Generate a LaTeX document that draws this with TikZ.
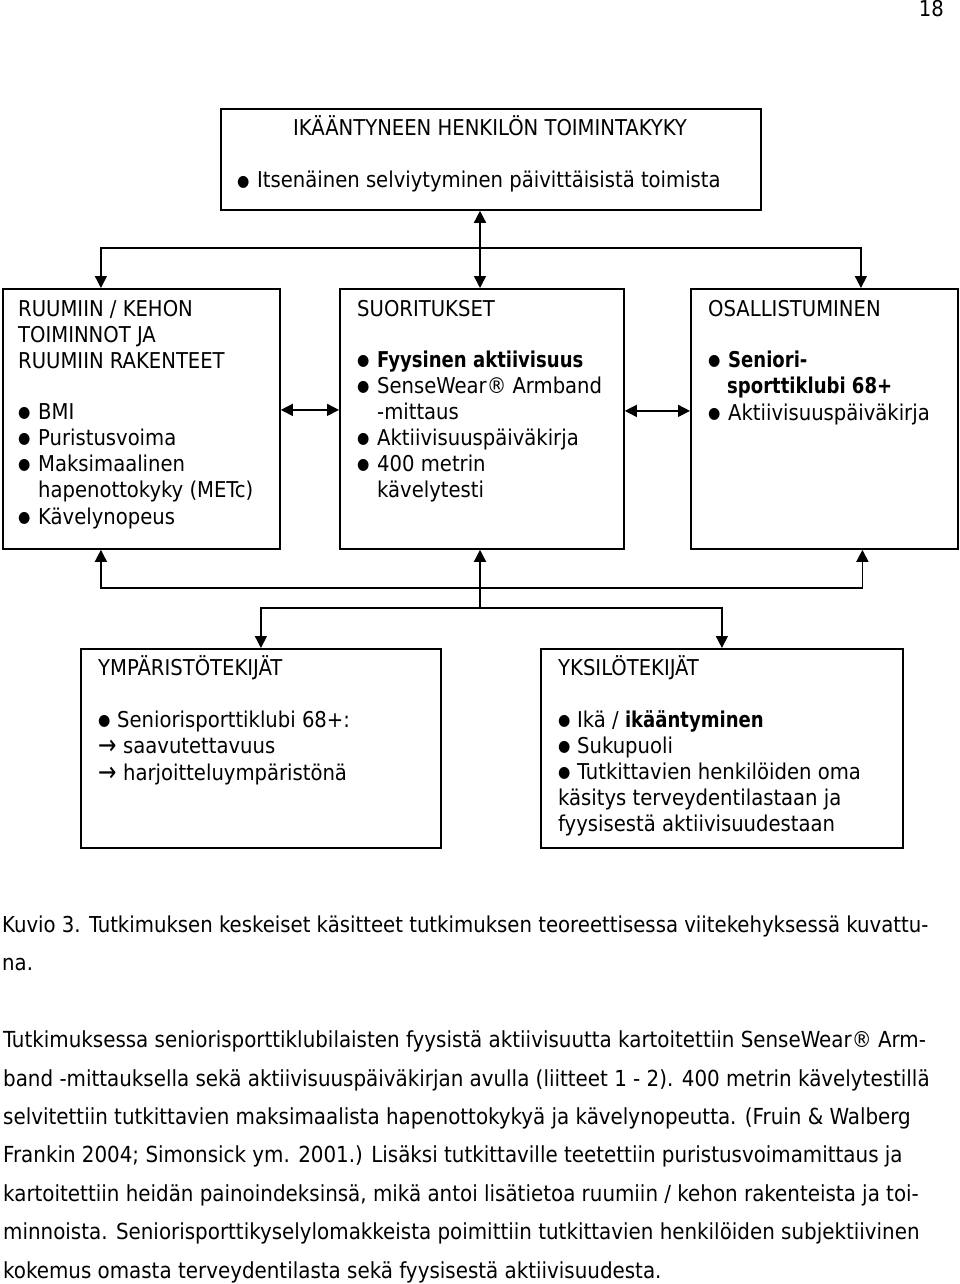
\documentclass[tikz,border=0pt]{standalone}
\usepackage{fontspec}
\setmainfont{DejaVu Sans Condensed}
\usetikzlibrary{arrows.meta}
\newcommand\dotg{\raisebox{1.5pt}{\scalebox{0.72}{●}}}
\newcommand\bul{\makebox[20pt][l]{\dotg}}
\newcommand\bulb{\makebox[19pt][l]{\dotg}}
\newcommand\arr{\makebox[25pt][l]{\smash{\raisebox{-1.5pt}{\scalebox{1.12}[1.25]{→}}}}}
\newcommand\bx[1]{\scalebox{0.92}[1]{\textbf{#1}}}
\newcommand\tline[4]{\node[txt] (#1) at (#2,#3) {#4};}
\newcommand\bline[4]{\node[body] (#1) at (#2,#3) {#4};}
\tikzset{
  box/.style={draw, line width=1.8pt, anchor=north west, inner sep=0pt},
  txt/.style={anchor=base west, inner sep=0pt, font=\fontsize{21.8}{26}\selectfont},
  body/.style={anchor=base west, inner sep=0pt, font=\fontsize{22.1}{26}\selectfont},
  captxt/.style={anchor=base west, inner sep=0pt, font=\fontsize{21.9}{26}\selectfont},
  conn/.style={line width=1.5pt},
  tip/.style={-{Triangle[length=12pt,width=12pt]}},
  both/.style={{Triangle[length=12pt,width=12pt]}-{Triangle[length=12pt,width=12pt]}},
}
\begin{document}
\begin{tikzpicture}[x=1pt,y=-1pt]
\useasboundingbox[fill=white] (0,0) rectangle (960,1284);
% page number
\node[txt,anchor=base east] (pg) at (944,17) {18};
% boxes
\node[box,minimum width=540pt,minimum height=101pt] (top) at (220,108) {};
\node[box,minimum width=277pt,minimum height=260pt] (L) at (2,288) {};
\node[box,minimum width=284pt,minimum height=260pt] (M) at (339,288) {};
\node[box,minimum width=267pt,minimum height=260pt] (R) at (690,288) {};
\node[box,minimum width=360pt,minimum height=199pt] (E) at (80,648) {};
\node[box,minimum width=362pt,minimum height=199pt] (Y) at (540,648) {};
% connectors
\coordinate (j1) at (480,248);
\coordinate (j2) at (480,588);
\coordinate (j3) at (480,608);
\draw[conn,both] (j1 |- top.south) -- (j1 |- M.north);
\draw[conn,tip] (j1) -| ([xshift=-40.5pt]L.north);
\draw[conn,tip] (j1) -| ([xshift=36.5pt]R.north);
\draw[conn,both] ([yshift=9pt]L.east) -- ([yshift=9pt]L.east -| M.west);
\draw[conn,both] ([yshift=8pt]M.east) -- ([yshift=8pt]M.east -| R.west);
\draw[conn,tip] (j2) -| ([xshift=-40.5pt]L.south);
\draw[conn,tip] (j2) -| ([xshift=38pt]R.south);
\draw[conn,tip] (j2) -- (j2 |- M.south);
\draw[conn] (j2) -- (j3);
\draw[conn,tip] (j3) -| (E.north);
\draw[conn,tip] (j3) -| (Y.north);
% top box text
\node[txt,anchor=base] (t1) at (490,136) {IKÄÄNTYNEEN HENKILÖN TOIMINTAKYKY};
\tline{t2}{237}{188}{\bul Itsenäinen selviytyminen päivittäisistä toimista}
% left box
\tline{l1}{18}{316}{RUUMIIN / KEHON}
\tline{l2}{18}{342}{TOIMINNOT JA}
\tline{l3}{18}{368}{RUUMIIN RAKENTEET}
\tline{l4}{18}{419}{\bul BMI}
\tline{l5}{18}{445}{\bul Puristusvoima}
\tline{l6}{18}{471}{\bul Maksimaalinen}
\tline{l7}{38}{497}{hapenottokyky (METc)}
\tline{l8}{18}{524}{\bul Kävelynopeus}
% middle box
\tline{m1}{357}{316}{SUORITUKSET}
\tline{m2}{357}{367}{\bul\bx{Fyysinen aktiivisuus}}
\tline{m3}{357}{393}{\bul SenseWear® Armband}
\tline{m4}{377}{419}{-mittaus}
\tline{m5}{357}{445}{\bul Aktiivisuuspäiväkirja}
\tline{m6}{357}{471}{\bul 400 metrin}
\tline{m7}{377}{497}{kävelytesti}
% right box
\tline{r1}{708}{316}{OSALLISTUMINEN}
\tline{r2}{708}{367}{\bul\bx{Seniori-}}
\tline{r3}{727}{393}{\bx{sporttiklubi 68+}}
\tline{r4}{708}{420}{\bul Aktiivisuuspäiväkirja}
% lower left box
\tline{e1}{98}{675}{YMPÄRISTÖTEKIJÄT}
\tline{e2}{98}{727}{\bulb Seniorisporttiklubi 68+:}
\tline{e3}{98}{753}{\arr saavutettavuus}
\tline{e4}{98}{780}{\arr harjoitteluympäristönä}
% lower right box
\tline{y1}{558}{675}{YKSILÖTEKIJÄT}
\tline{y2}{558}{727}{\bulb Ikä / \bx{ikääntyminen}}
\tline{y3}{558}{753}{\bulb Sukupuoli}
\tline{y4}{558}{779}{\bulb Tutkittavien henkilöiden oma}
\tline{y5}{558}{805}{käsitys terveydentilastaan ja}
\tline{y6}{558}{831}{fyysisestä aktiivisuudestaan}
% caption
\node[captxt] (c1) at (2,932) {Kuvio 3. Tutkimuksen keskeiset käsitteet tutkimuksen teoreettisessa viitekehyksessä kuvattu-};
\node[captxt] (c2) at (2,970) {na.};
% paragraph
\bline{p1}{3}{1047}{Tutkimuksessa seniorisporttiklubilaisten fyysistä aktiivisuutta kartoitettiin SenseWear® Arm-}
\bline{p2}{3}{1086}{band -mittauksella sekä aktiivisuuspäiväkirjan avulla (liitteet 1 - 2). 400 metrin kävelytestillä}
\bline{p3}{3}{1124}{selvitettiin tutkittavien maksimaalista hapenottokykyä ja kävelynopeutta. (Fruin \& Walberg}
\bline{p4}{3}{1162}{Frankin 2004; Simonsick ym. 2001.) Lisäksi tutkittaville teetettiin puristusvoimamittaus ja}
\bline{p5}{3}{1201}{kartoitettiin heidän painoindeksinsä, mikä antoi lisätietoa ruumiin / kehon rakenteista ja toi-}
\bline{p6}{3}{1239}{minnoista. Seniorisporttikyselylomakkeista poimittiin tutkittavien henkilöiden subjektiivinen}
\bline{p7}{3}{1278}{kokemus omasta terveydentilasta sekä fyysisestä aktiivisuudesta.}
\end{tikzpicture}
\end{document}
